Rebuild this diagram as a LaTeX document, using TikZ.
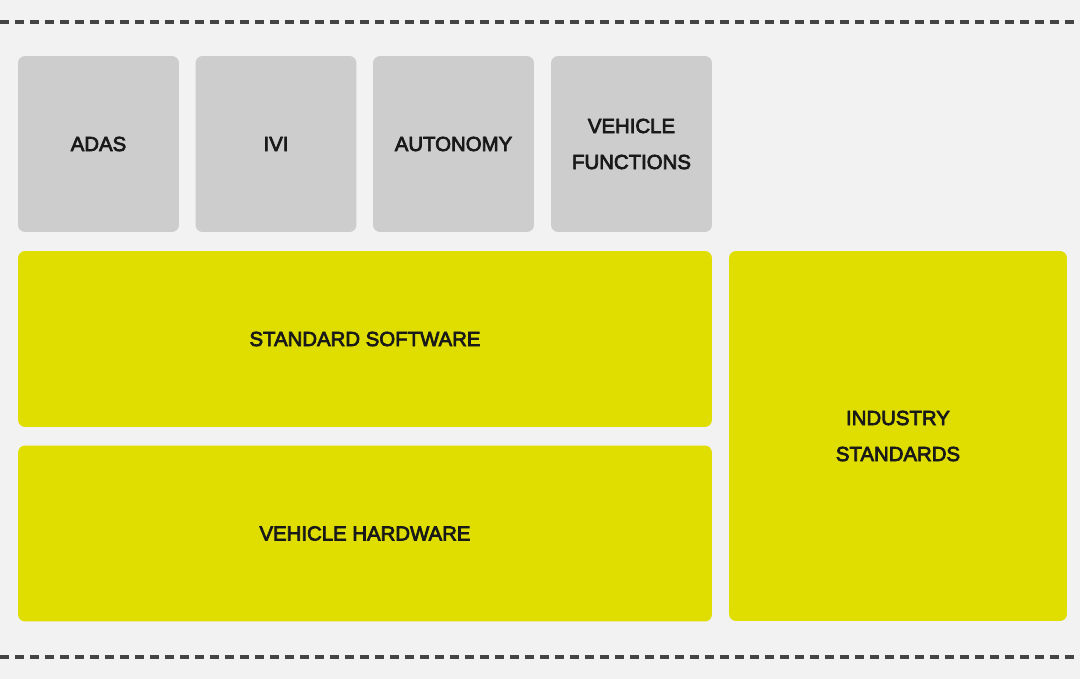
\documentclass[tikz,border=0pt]{standalone}
\usepackage{fontspec}
\setmainfont{Liberation Sans}[FakeBold=3.5]
\usepackage{tikz}
\usetikzlibrary{positioning}
\usetikzlibrary{calc}

\definecolor{bgcol}{HTML}{F2F2F2}
\definecolor{appgrey}{HTML}{CCCDCC}
\definecolor{baseyellow}{HTML}{DFDE00}
\definecolor{dashgrey}{HTML}{444444}

\begin{document}
\begin{tikzpicture}[x=0.02cm, y=-0.02cm,
    box/.style={rectangle, rounded corners=4pt, inner sep=0pt, align=center, text=black!90,
      font=\fontsize{11.6}{20.5}\selectfont},
    app/.style={box, fill=appgrey, minimum width=3.22cm, minimum height=3.52cm},
    base/.style={box, fill=baseyellow, minimum width=13.88cm, minimum height=3.52cm},
    border/.style={dashgrey, line width=2.1pt, dash pattern=on 0.18cm off 0.12cm}]
          \fill[bgcol] (0, 0) rectangle (1080, 679);
          \useasboundingbox (0, 0) rectangle (1080, 679);

          \coordinate (topl) at (0, 22);
          \coordinate (topr) at (1080, 22);
          \coordinate (botl) at (0, 657);
          \coordinate (botr) at (1080, 657);

          \node[app] (adas) at (98.5, 144) {ADAS};
          \node[app] (ivi) at (276, 144) {IVI};
          \node[app] (autonomy) at (453.5, 144) {AUTONOMY};
          \node[app] (functions) at (631.5, 144) {VEHICLE\\FUNCTIONS};

          \node[base] (software) at (365, 339) {STANDARD SOFTWARE};
          \node[base] (hardware) at (365, 533.5) {VEHICLE HARDWARE};

          \node[box, fill=baseyellow, minimum width=6.76cm, minimum height=7.4cm] (industry) at (898, 436) {INDUSTRY\\STANDARDS};

          \draw[border] (topl) -- (topr);
          \draw[border] (botl) -- (botr);
        \end{tikzpicture}
\end{document}
